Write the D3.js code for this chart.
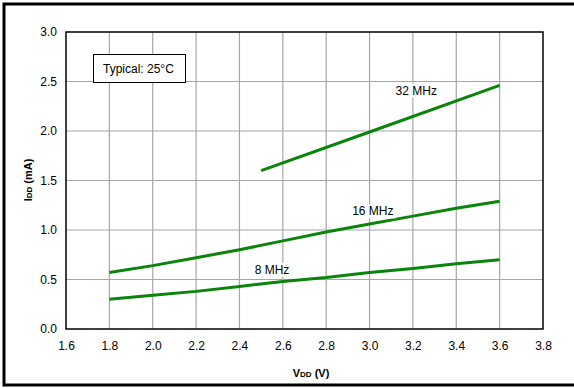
<!DOCTYPE html>
<html>
<head>
<meta charset="utf-8">
<script src="https://cdn.jsdelivr.net/npm/d3@7"></script>
<style>
  body { margin: 0; background: #fff; }
  svg { display: block; font-family: "Liberation Sans", Arial, sans-serif; }
</style>
</head>
<body>
<div class="graph"></div>
<script>
const xTicks = [1.6, 1.8, 2.0, 2.2, 2.4, 2.6, 2.8, 3.0, 3.2, 3.4, 3.6, 3.8];
const yTicks = [0.0, 0.5, 1.0, 1.5, 2.0, 2.5, 3.0];

const vdd = [1.8, 2.0, 2.2, 2.4, 2.6, 2.8, 3.0, 3.2, 3.4, 3.6];
const idd8 = [0.30, 0.34, 0.38, 0.43, 0.48, 0.52, 0.57, 0.61, 0.66, 0.70];
const idd16 = [0.57, 0.64, 0.72, 0.80, 0.89, 0.98, 1.06, 1.14, 1.22, 1.29];
const vdd32 = [2.5, 3.0, 3.6];
const idd32 = [1.60, 1.99, 2.46];

const seriesLabels = [
  { text: '32 MHz', x: 3.12, y: 2.41 },
  { text: '16 MHz', x: 2.92, y: 1.19 },
  { text: '8 MHz', x: 2.47, y: 0.60 }
];

const w = 574;
const h = 388;
const padding = { top: 32, right: 31, bottom: 59, left: 66 };

const xScale = d3.scaleLinear()
  .domain([1.6, 3.8])
  .range([padding.left, w - padding.right]);
const yScale = d3.scaleLinear()
  .domain([0, 3])
  .range([h - padding.bottom, padding.top]);

const svg = d3.select('.graph')
  .append('svg')
  .attr('width', w)
  .attr('height', h);

// outer frame
svg.append('rect')
  .attr('x', 4)
  .attr('y', 4)
  .attr('width', w + 10)
  .attr('height', 381)
  .attr('fill', 'none')
  .attr('stroke', '#000')
  .attr('stroke-width', 3);

// grid
svg.append('g')
  .selectAll('line')
  .data(xTicks.slice(1, -1))
  .enter()
  .append('line')
  .attr('x1', (d) => xScale(d))
  .attr('x2', (d) => xScale(d))
  .attr('y1', yScale(0))
  .attr('y2', yScale(3))
  .attr('stroke', '#a6a6a6')
  .attr('stroke-width', 1.2);

svg.append('g')
  .selectAll('line')
  .data(yTicks.slice(1, -1))
  .enter()
  .append('line')
  .attr('x1', xScale(1.6))
  .attr('x2', xScale(3.8))
  .attr('y1', (d) => yScale(d))
  .attr('y2', (d) => yScale(d))
  .attr('stroke', '#a6a6a6')
  .attr('stroke-width', 1.2);

// axes labels via d3 axes (no domain/ticks lines)
const xAxis = svg.append('g')
  .attr('transform', `translate(0, ${h - padding.bottom})`)
  .call(d3.axisBottom(xScale).tickValues(xTicks).tickFormat(d3.format('.1f')).tickSize(0).tickPadding(12));
const yAxis = svg.append('g')
  .attr('transform', `translate(${padding.left}, 0)`)
  .call(d3.axisLeft(yScale).tickValues(yTicks).tickFormat(d3.format('.1f')).tickSize(0).tickPadding(9));
[xAxis, yAxis].forEach((a) => {
  a.select('.domain').remove();
  a.selectAll('text').style('font-size', '12px').attr('fill', '#000')
    .style('font-family', '"Liberation Sans", Arial, sans-serif');
});

// plot border
svg.append('rect')
  .attr('x', xScale(1.6))
  .attr('y', yScale(3))
  .attr('width', xScale(3.8) - xScale(1.6))
  .attr('height', yScale(0) - yScale(3))
  .attr('fill', 'none')
  .attr('stroke', '#000')
  .attr('stroke-width', 1.5);

// series
const line = d3.line()
  .x((d) => xScale(d[0]))
  .y((d) => yScale(d[1]));

[[vdd, idd8], [vdd, idd16], [vdd32, idd32]].forEach(([xs, ys]) => {
  svg.append('path')
    .datum(xs.map((x, i) => [x, ys[i]]))
    .attr('d', line)
    .attr('fill', 'none')
    .attr('stroke', '#0a840a')
    .attr('stroke-width', 3);
});

const labels = svg.selectAll('.series-label')
  .data(seriesLabels)
  .enter()
  .append('g')
  .attr('class', 'series-label');
labels.append('text')
  .attr('x', (d) => xScale(d.x))
  .attr('y', (d) => yScale(d.y))
  .attr('dy', '0.35em')
  .style('font-size', '12px')
  .text((d) => d.text);
labels.each(function () {
  const g = d3.select(this);
  const b = g.select('text').node().getBBox();
  g.insert('rect', 'text')
    .attr('x', b.x - 2)
    .attr('y', b.y)
    .attr('width', b.width + 4)
    .attr('height', b.height)
    .attr('fill', '#fff');
});

// note box
svg.append('rect')
  .attr('x', 93.5)
  .attr('y', 54.5)
  .attr('width', 92)
  .attr('height', 28)
  .attr('fill', '#fff')
  .attr('stroke', '#000')
  .attr('stroke-width', 1);
svg.append('text')
  .attr('x', 103)
  .attr('y', 69)
  .attr('dy', '0.35em')
  .style('font-size', '12px')
  .text('Typical: 25°C');

// axis titles
const xTitle = svg.append('text')
  .attr('x', 311)
  .attr('y', 377)
  .attr('text-anchor', 'middle')
  .style('font-size', '11px')
  .style('font-weight', 'bold');
xTitle.append('tspan').text('V');
xTitle.append('tspan').style('font-size', '8px').text('DD');
xTitle.append('tspan').text(' (V)');

const yTitle = svg.append('text')
  .attr('transform', 'translate(32, 180) rotate(-90)')
  .attr('text-anchor', 'middle')
  .style('font-size', '11px')
  .style('font-weight', 'bold');
yTitle.append('tspan').text('I');
yTitle.append('tspan').style('font-size', '8px').text('DD');
yTitle.append('tspan').text(' (mA)');
</script>
</body>
</html>
